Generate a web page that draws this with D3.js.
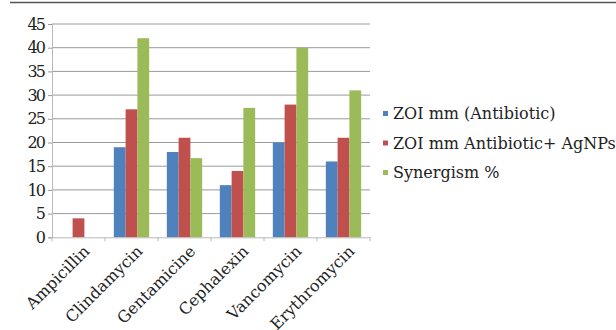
<!DOCTYPE html>
<html><head><meta charset="utf-8">
<script src="https://cdn.jsdelivr.net/npm/d3@7"></script>
<style>body{margin:0;background:#fff}svg{display:block}</style>
</head><body>
<script>
const categories = ["Ampicillin","Clindamycin","Gentamicine","Cephalexin","Vancomycin","Erythromycin"];
const seriesNames = ["ZOI mm (Antibiotic)","ZOI mm Antibiotic+ AgNPs","Synergism %"];
const zoiAntibiotic = [0,19,18,11,20,16];
const zoiAgNPs = [4,27,21,14,28,21];
const synergism = [0,42,16.7,27.3,40,31];
const yTicks = [0,5,10,15,20,25,30,35,40,45];
const colors = ["#4F81BD","#C0504D","#9BBB59"];

(function(){
const W=616,H=330;
const svg=d3.select("body").append("svg").attr("width",W).attr("height",H);
const font="DejaVu Serif";
const fs=16;
const pL=52,pR=370,pT=24,pB=237.3;

svg.append("line").attr("x1",10).attr("x2",616).attr("y1",2.5).attr("y2",2.5)
  .attr("stroke","#555").attr("stroke-width",1.6);

const x=d3.scaleBand().domain(categories).range([pL,pR]);
const y=d3.scaleLinear().domain([0,45]).range([pB,pT]);
const series=[zoiAntibiotic,zoiAgNPs,synergism];
const bw=x.bandwidth()/4.5;

svg.append("g").selectAll("line").data(yTicks.filter(d=>d>0)).join("line")
  .attr("x1",pL).attr("x2",pR).attr("y1",d=>y(d)).attr("y2",d=>y(d))
  .attr("stroke","#9a9a9a").attr("stroke-width",1);

const ya=svg.append("g").attr("transform",`translate(${pL},0)`)
  .call(d3.axisLeft(y).tickValues(yTicks).tickSize(4).tickPadding(2))
  .attr("font-family",font).attr("font-size",fs);
ya.select(".domain").attr("stroke","#b8b8b8");
ya.selectAll(".tick line").attr("stroke","#9a9a9a");
ya.selectAll("text").attr("font-family",font).attr("font-size",fs).attr("fill","#222")
  .attr("textLength",function(){return this.textContent.length*9.3;});

series.forEach((vals,si)=>{
  const g=svg.append("g");
  g.selectAll("rect").data(vals.map((v,i)=>({v,c:categories[i]})).filter(d=>d.v>0)).join("rect")
    .attr("x",d=>x(d.c)+bw*0.75+si*bw).attr("width",bw)
    .attr("y",d=>y(d.v)).attr("height",d=>y(0)-y(d.v))
    .attr("fill",colors[si]);
});

const xa=svg.append("g").attr("transform",`translate(0,${pB})`)
  .call(d3.axisBottom(x).tickSize(0).tickFormat(""));
xa.select(".domain").attr("stroke","#b8b8b8");
svg.append("g").selectAll("line").data(d3.range(categories.length+1)).join("line")
  .attr("x1",i=>pL+i*x.step()).attr("x2",i=>pL+i*x.step())
  .attr("y1",pB).attr("y2",pB+4).attr("stroke","#b8b8b8");
svg.append("g").selectAll("text").data(categories).join("text")
  .attr("transform",d=>`translate(${x(d)+x.bandwidth()/2+4},${pB+7}) rotate(-45)`)
  .attr("text-anchor","end").attr("dy","0.7em")
  .attr("font-family",font).attr("font-size",fs).attr("fill","#222").text(d=>d);

const lg=svg.append("g");
seriesNames.forEach((n,i)=>{
  const cy=113.5+i*29.5;
  lg.append("rect").attr("x",383).attr("y",cy-2.5).attr("width",5).attr("height",5).attr("fill",colors[i]);
  lg.append("text").attr("x",393).attr("y",cy).attr("dy","0.35em")
    .attr("font-family",font).attr("font-size",fs).attr("fill","#222").text(n);
});
})();
</script>
</body></html>
